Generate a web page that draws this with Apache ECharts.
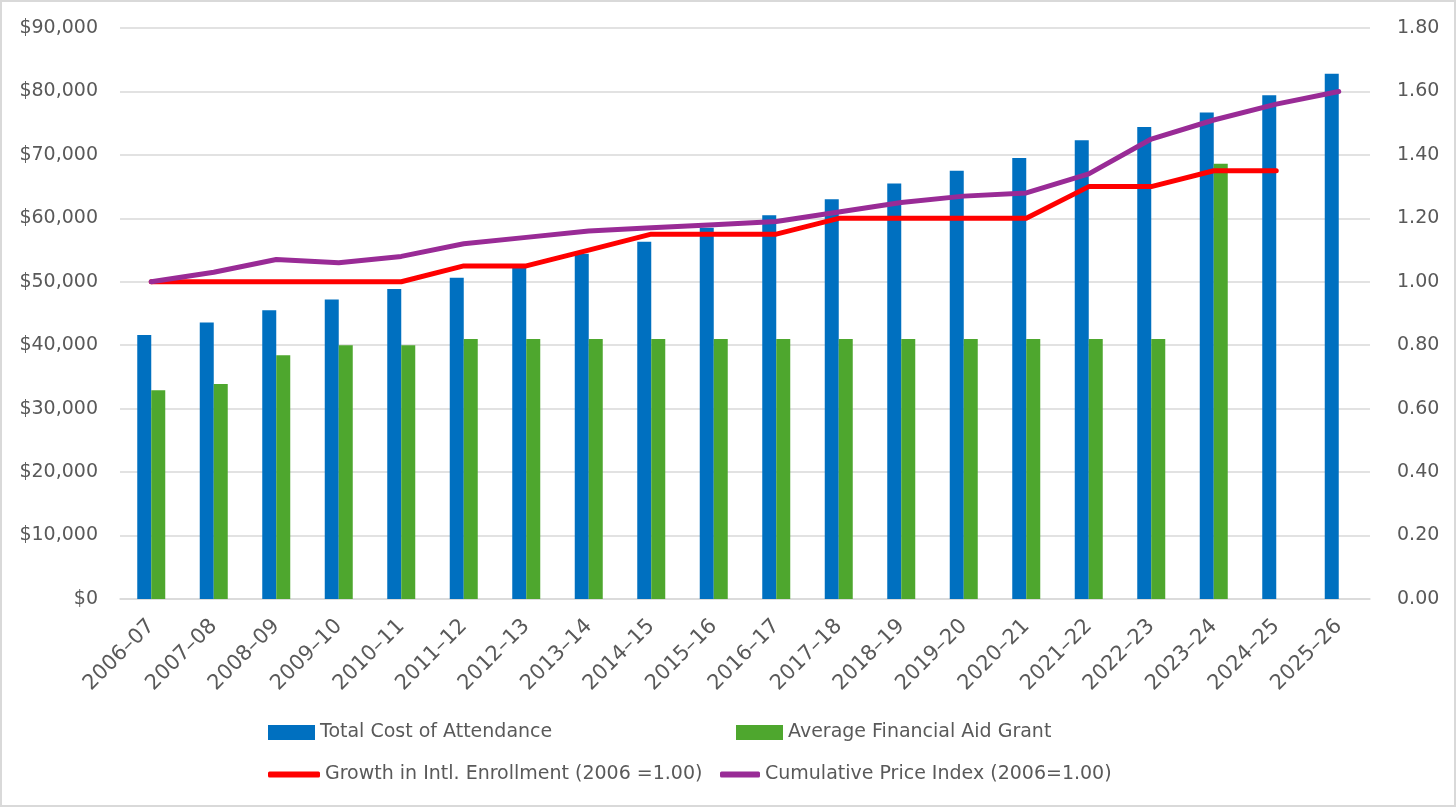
<!DOCTYPE html>
<html>
<head>
<meta charset="utf-8">
<script src="https://cdn.jsdelivr.net/npm/echarts@6/dist/echarts.min.js"></script>
<style>
html,body{margin:0;padding:0;background:#fff;}
#c{width:1456px;height:807px;box-sizing:border-box;border:2px solid #d9d9d9;}
</style>
</head>
<body>
<div id="c"></div>
<script>
const categories = ["2006–07","2007–08","2008–09","2009–10","2010–11","2011–12","2012–13","2013–14","2014–15","2015–16","2016–17","2017–18","2018–19","2019–20","2020–21","2021–22","2022–23","2023–24","2024–25","2025–26"];
const totalCost = [41600,43600,45500,47200,48850,50650,52200,54400,56300,58500,60500,63000,65500,67500,69500,72300,74400,76700,79400,82800];
const aidGrant = [32900,33900,38400,40000,40000,41000,41000,41000,41000,41000,41000,41000,41000,41000,41000,41000,41000,68600,null,null];
const enrollGrowth = [1.00,1.00,1.00,1.00,1.00,1.05,1.05,1.10,1.15,1.15,1.15,1.20,1.20,1.20,1.20,1.30,1.30,1.35,1.35,null];
const priceIndex = [1.00,1.03,1.07,1.06,1.08,1.12,1.14,1.16,1.17,1.18,1.19,1.22,1.25,1.27,1.28,1.34,1.45,1.51,1.56,1.60];
const leftTicks = {min:0,max:90000,interval:10000};
const rightTicks = {min:0,max:1.8,interval:0.2};

const FONT = 'DejaVu Sans';
const TXT = '#595959';
const chart = echarts.init(document.getElementById('c'));
const legendText = {color:TXT,fontSize:19,fontFamily:FONT};
chart.setOption({
  animation:false,
  grid:{left:118,right:84,top:26,bottom:206},
  legend:[
    {data:['Total Cost of Attendance'],left:266,top:721,padding:0,itemWidth:47,itemHeight:15,itemGap:6,textStyle:legendText,icon:'rect'},
    {data:['Average Financial Aid Grant'],left:734,top:721,padding:0,itemWidth:47,itemHeight:15,textStyle:legendText,icon:'rect'},
    {data:['Growth in Intl. Enrollment (2006 =1.00)'],left:266,top:763,padding:0,itemWidth:52,itemHeight:6,textStyle:legendText,icon:'roundRect'},
    {data:['Cumulative Price Index (2006=1.00)'],left:718,top:763,padding:0,itemWidth:40,itemHeight:6,textStyle:legendText,icon:'roundRect'}
  ],
  xAxis:{type:'category',data:categories,
    axisLine:{lineStyle:{color:'#d9d9d9',width:1.5}},axisTick:{show:false},
    axisLabel:{rotate:45,color:TXT,fontSize:21,fontFamily:FONT,margin:24,interval:0}},
  yAxis:[
    {type:'value',min:leftTicks.min,max:leftTicks.max,interval:leftTicks.interval,
     axisLine:{show:false},axisTick:{show:false},
     splitLine:{lineStyle:{color:'#d9d9d9',width:1.5}},
     axisLabel:{color:TXT,fontSize:19,fontFamily:FONT,margin:22,
       formatter:v=>'$'+v.toLocaleString('en-US')}},
    {type:'value',min:rightTicks.min,max:rightTicks.max,interval:rightTicks.interval,
     axisLine:{show:false},axisTick:{show:false},splitLine:{show:false},
     axisLabel:{color:TXT,fontSize:19,fontFamily:FONT,margin:27,formatter:v=>v.toFixed(2)}}
  ],
  series:[
    {name:'Total Cost of Attendance',type:'bar',data:totalCost,barWidth:14,barGap:'0%',itemStyle:{color:'#0070C0'}},
    {name:'Average Financial Aid Grant',type:'bar',data:aidGrant,barWidth:14,barGap:'0%',itemStyle:{color:'#4EA72E'}},
    {name:'Growth in Intl. Enrollment (2006 =1.00)',type:'line',yAxisIndex:1,data:enrollGrowth,
     symbol:'none',lineStyle:{color:'#FF0000',width:5,cap:'round',join:'round'},itemStyle:{color:'#FF0000'}},
    {name:'Cumulative Price Index (2006=1.00)',type:'line',yAxisIndex:1,data:priceIndex,
     symbol:'none',lineStyle:{color:'#992B96',width:5,cap:'round',join:'round'},itemStyle:{color:'#992B96'}}
  ]
});
</script>
</body>
</html>
